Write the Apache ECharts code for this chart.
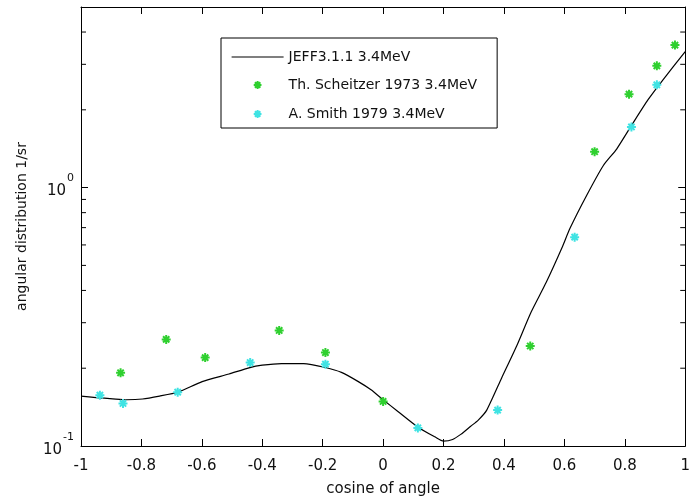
<!DOCTYPE html>
<html><head><meta charset="utf-8">
<script src="https://cdn.jsdelivr.net/npm/echarts/dist/echarts.min.js"></script>
<style>html,body{margin:0;padding:0;background:#fff}#c{width:693px;height:502px}</style>
</head><body><div id="c"></div><script>
// ---- data ----
const jeffX = [-1.0,-0.95,-0.895,-0.85,-0.796,-0.74,-0.68,-0.599,-0.51,-0.444,-0.40,-0.336,-0.263,-0.191,-0.138,-0.082,-0.04,0.0,0.049,0.115,0.171,0.20,0.23,0.257,0.29,0.315,0.343,0.392,0.442,0.49,0.54,0.592,0.619,0.674,0.729,0.773,0.828,0.877,0.927,1.0];
const jeffY = [0.156,0.154,0.1523,0.151,0.152,0.156,0.1615,0.1775,0.190,0.2007,0.2055,0.2085,0.2085,0.2013,0.1927,0.1775,0.165,0.151,0.136,0.1183,0.1086,0.1045,0.106,0.1109,0.1193,0.126,0.1377,0.183,0.2438,0.33,0.43,0.585,0.697,0.934,1.218,1.41,1.785,2.19,2.62,3.36];
const schX = [-0.869,-0.718,-0.589,-0.344,-0.191,0.0,0.487,0.70,0.814,0.906,0.966];
const schY = [0.192,0.2586,0.2198,0.280,0.230,0.1487,0.2438,1.377,2.30,2.96,3.56];
const smiX = [-0.9375,-0.861,-0.68,-0.44,-0.191,0.115,0.379,0.634,0.822,0.906];
const smiY = [0.1573,0.1461,0.1615,0.2104,0.2074,0.1175,0.1377,0.643,1.717,2.50];
const minorY = [0.2,0.3,0.4,0.5,0.6,0.7,0.8,0.9,2,3,4];
const names = ['JEFF3.1.1 3.4MeV','Th. Scheitzer 1973 3.4MeV','A. Smith 1979 3.4MeV'];
const xName = 'cosine of angle';
const yName = 'angular distribution 1/sr';

const FONT = 'DejaVu Sans';
const GREEN = '#2fd02f', CYAN = '#3fe3e3', INK = '#111';
const star = 'path://M0,5L10,5M5,0L5,10M1.5,1.5L8.5,8.5M8.5,1.5L1.5,8.5';
const starPad = 'path://M-4,-4M14,14M0,5L10,5M5,0L5,10M1.5,1.5L8.5,8.5M8.5,1.5L1.5,8.5';
const lineIcon = 'path://M0,-1M0,0L52,0M52,1';
const zip = (a,b) => a.map((v,i)=>[v,b[i]]);

const chart = echarts.init(document.getElementById('c'));
const axLine = {show:true, onZero:false, lineStyle:{color:'#000', width:1}};
const xBase = {type:'value', min:-1, max:1, interval:0.2, splitLine:{show:false},
  axisLine:axLine, axisTick:{inside:true, length:7, lineStyle:{color:'#000'}}};
const yBase = {type:'log', logBase:10, min:0.1, max:5, splitLine:{show:false},
  axisLine:axLine, axisTick:{inside:true, length:7, lineStyle:{color:'#000'}}};

chart.setOption({
  animation:false,
  backgroundColor:'#fff',
  grid:{left:81, right:4, top:7, bottom:52, containLabel:false},
  xAxis:[
    Object.assign({}, xBase, {position:'bottom', name:xName, nameLocation:'middle', nameGap:36,
      nameTextStyle:{fontFamily:FONT, fontSize:15, color:INK},
      axisLabel:{margin:13, fontFamily:FONT, fontSize:15, color:INK,
        formatter:v=>String(Math.round(v*10)/10)}}),
    Object.assign({}, xBase, {position:'top', axisLabel:{show:false}})
  ],
  yAxis:[
    Object.assign({}, yBase, {position:'left', name:yName, nameLocation:'middle', nameGap:52,
      nameTextStyle:{fontFamily:FONT, fontSize:14, color:INK},
      axisLabel:{margin:7, showMaxLabel:false, padding:[0,0,7,0],
        formatter:v=>{ if (Math.abs(v-0.1)<1e-9) return '{b|10}{s|-1}'; if (Math.abs(v-1)<1e-9) return '{b|10}{s|0}'; return ''; },
        rich:{
          b:{fontFamily:FONT, fontSize:15, color:INK, lineHeight:30, verticalAlign:'bottom'},
          s:{fontFamily:FONT, fontSize:11, color:INK, lineHeight:19, verticalAlign:'top', padding:[4,0,0,1]}
        }}}),
    Object.assign({}, yBase, {position:'right', axisLabel:{show:false}})
  ],
  legend:{
    orient:'vertical', left:221, top:38, padding:[12,20,6,10], itemGap:13,
    itemWidth:52, itemHeight:14, borderColor:'#000', borderWidth:1, backgroundColor:'#fff',
    textStyle:{fontFamily:FONT, fontSize:14, color:INK},
    data:[{name:names[0], icon:lineIcon, itemStyle:{color:'#000', borderColor:'#000', borderWidth:1.2}},
          {name:names[1], icon:starPad},{name:names[2], icon:starPad}]
  },
  series:[
    {name:names[0], type:'line', data:zip(jeffX,jeffY), symbol:'none', smooth:0.2,
      lineStyle:{color:'#000', width:1.2}, itemStyle:{color:'#000', borderColor:'#000', borderWidth:1.2}, z:3},
    {name:names[1], type:'scatter', data:zip(schX,schY), symbol:star, symbolSize:9,
      itemStyle:{color:GREEN, borderColor:GREEN, borderWidth:2, opacity:1}, z:4},
    {name:names[2], type:'scatter', data:zip(smiX,smiY), symbol:star, symbolSize:9,
      itemStyle:{color:CYAN, borderColor:CYAN, borderWidth:2, opacity:1}, z:4},
    {type:'custom', silent:true, data:minorY.map(v=>[0,v]), z:5,
      renderItem:(params, api)=>{
        const y = api.value(1);
        const L = api.coord([-1, y]), R = api.coord([1, y]);
        const st = {stroke:'#000', lineWidth:1};
        return {type:'group', children:[
          {type:'line', shape:{x1:L[0], y1:L[1], x2:L[0]+5, y2:L[1]}, style:st},
          {type:'line', shape:{x1:R[0]-5, y1:R[1], x2:R[0], y2:R[1]}, style:st}
        ]};
      }}
  ]
});
</script></body></html>
